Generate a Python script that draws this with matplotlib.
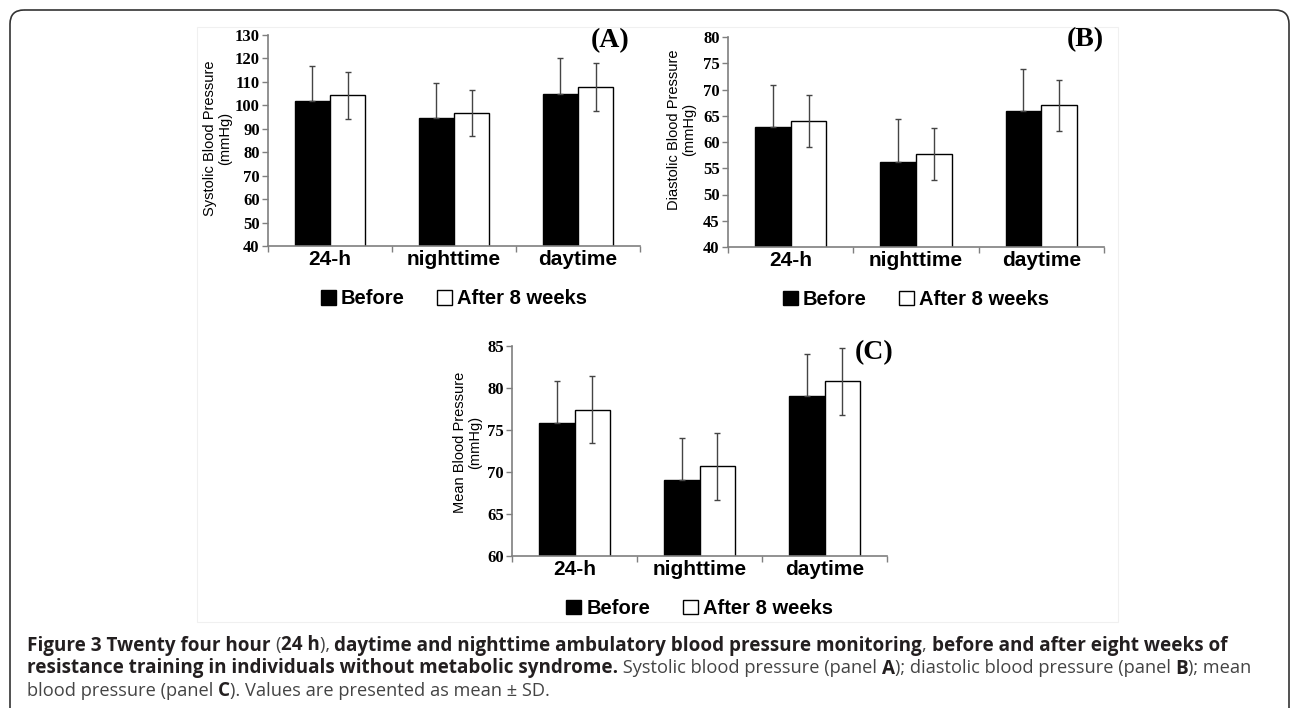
import matplotlib
matplotlib.use('Agg')
import matplotlib.pyplot as plt
import numpy as np
from matplotlib.patches import Patch, FancyBboxPatch, Rectangle

# data (mean and SD, mmHg)
categories = ['24-h', 'nighttime', 'daytime']

sys_before = [101.7, 94.5, 104.9]
sys_before_sd = [15.0, 15.1, 15.1]
sys_after = [104.2, 96.7, 107.9]
sys_after_sd = [10.2, 9.9, 10.2]

dia_before = [62.9, 56.2, 66.0]
dia_before_sd = [8.0, 8.1, 8.0]
dia_after = [64.0, 57.7, 67.0]
dia_after_sd = [4.9, 5.0, 4.9]

mean_before = [75.8, 69.0, 79.1]
mean_before_sd = [5.0, 5.0, 5.0]
mean_after = [77.4, 70.7, 80.8]
mean_after_sd = [4.0, 4.0, 4.0]

legend_labels = ['Before', 'After 8 weeks']

W, H = 1292, 708
fig = plt.figure(figsize=(W / 100, H / 100), dpi=100)

# overlay axes in pixel units for the frame, panel tags and caption
bg = fig.add_axes([0, 0, 1, 1], zorder=0)
bg.set_xlim(0, W)
bg.set_ylim(H, 0)
bg.axis('off')

# rounded outer frame (bottom runs off the page)
bg.add_patch(FancyBboxPatch((10, 10), 1279, 760, boxstyle='round,pad=0,rounding_size=14',
                            fill=False, ec='#333333', lw=1.2, clip_on=False))
# faint border of the embedded figure image
bg.add_patch(Rectangle((197, 27), 921, 595, fill=False, ec='#f0f0f0', lw=0.8))


def px_axes(left, top, right, bottom):
    ax = fig.add_axes([left / W, 1 - bottom / H, (right - left) / W, (bottom - top) / H], zorder=2)
    ax.patch.set_visible(False)
    return ax


def panel(ax, before, before_sd, after, after_sd, ylo, yhi, ystep, ylabel, tag, tagpos, lab_x, lab_y):
    x = np.arange(len(categories))
    w = 0.285
    ax.bar(x - w / 2, before, w, color='black', edgecolor='black', lw=1.0, zorder=2)
    ax.bar(x + w / 2, after, w, color='white', edgecolor='black', lw=1.0, zorder=2)
    ax.errorbar(x - w / 2, before, yerr=[np.zeros(3), before_sd], fmt='none',
                ecolor='#444444', elinewidth=1.0, capsize=2.5, capthick=1.0, zorder=3)
    ax.errorbar(x + w / 2, after, yerr=after_sd, fmt='none',
                ecolor='#444444', elinewidth=1.0, capsize=2.5, capthick=1.0, zorder=3)
    ax.set_xlim(-0.5, 2.5)
    ax.set_ylim(ylo, yhi)
    ticks = np.arange(ylo, yhi + 0.1, ystep)
    ax.set_yticks(ticks)
    ax.set_yticklabels([str(int(v)) for v in ticks],
                       fontfamily='Liberation Serif', fontweight='bold', fontsize=12)
    ax.set_xticks(x)
    ax.set_xticklabels(categories, fontfamily='Liberation Sans', fontweight='bold', fontsize=15)
    ax.set_xticks([-0.5, 0.5, 1.5, 2.5], minor=True)
    ax.tick_params(axis='x', which='major', length=0, pad=3)
    ax.tick_params(axis='x', which='minor', length=4, color='#7f7f7f', width=1.0)
    ax.tick_params(axis='y', length=4, color='#7f7f7f', width=1.0, pad=2)
    for s in ['top', 'right']:
        ax.spines[s].set_visible(False)
    for s in ['left', 'bottom']:
        ax.spines[s].set_color('#7f7f7f')
        ax.spines[s].set_linewidth(1.2)
    ax.set_ylabel(ylabel, fontfamily='Liberation Sans', fontsize=10.5, linespacing=1.1)
    ax.yaxis.set_label_coords(lab_x, lab_y)
    handles = [Patch(facecolor='black', edgecolor='black'),
               Patch(facecolor='white', edgecolor='black')]
    ax.legend(handles, legend_labels, loc='center', bbox_to_anchor=(0.5, -0.25), ncol=2,
              frameon=False, handlelength=0.75, handleheight=0.75, handletextpad=0.25,
              columnspacing=1.6, prop={'family': 'Liberation Sans', 'weight': 'bold', 'size': 14.5})
    fig.text(tagpos[0] / W, 1 - tagpos[1] / H, tag, fontfamily='Liberation Serif', fontweight='bold',
             fontsize=20, ha='center', va='center', zorder=5)


axA = px_axes(268, 35, 640, 246)
panel(axA, sys_before, sys_before_sd, sys_after, sys_after_sd, 40, 130, 10,
      'Systolic Blood Pressure\n(mmHg)', '(A)', (610, 41), -0.097, 0.51)

axB = px_axes(728, 37, 1104, 247)
panel(axB, dia_before, dia_before_sd, dia_after, dia_after_sd, 40, 80, 5,
      'Diastolic Blood Pressure\n(mmHg)', '(B)', (1085, 40), -0.085, 0.56)

axC = px_axes(512, 346, 887, 556)
panel(axC, mean_before, mean_before_sd, mean_after, mean_after_sd, 60, 85, 5,
      'Mean Blood Pressure\n(mmHg)', '(C)', (874, 353), -0.08, 0.54)

# caption, drawn piece by piece so bold and regular runs sit side by side
caption = [
    [('Figure 3 Twenty four hour ', 'bold'), ('(', 'normal'), ('24 h', 'bold'), ('), ', 'normal'),
     ('daytime and nighttime ambulatory blood pressure monitoring', 'bold'), (', ', 'normal'),
     ('before and after eight weeks of', 'bold')],
    [('resistance training in individuals without metabolic syndrome.', 'bold'),
     (' Systolic blood pressure (panel ', 'normal'), ('A', 'bold'),
     ('); diastolic blood pressure (panel ', 'normal'), ('B', 'bold'), ('); mean', 'normal')],
    [('blood pressure (panel ', 'normal'), ('C', 'bold'),
     ('). Values are presented as mean \u00b1 SD.', 'normal')],
]
cap_font = 'Open Sans'
cap_size = {'bold': 13.55, 'normal': 13.15}
cap_color = {'bold': '#231f20', 'normal': '#444444'}
renderer = fig.canvas.get_renderer()


def text_width(s, weight):
    t = bg.text(0, 0, s + '|', fontfamily=cap_font, fontweight=weight, fontsize=cap_size[weight])
    m = bg.text(0, 0, '|', fontfamily=cap_font, fontweight=weight, fontsize=cap_size[weight])
    wdt = t.get_window_extent(renderer).width - m.get_window_extent(renderer).width
    t.remove()
    m.remove()
    return wdt


for i, line in enumerate(caption):
    xpos = 27
    ypos = 643 + 23 * i
    for s, weight in line:
        bg.text(xpos, ypos, s, fontfamily=cap_font, fontweight=weight, fontsize=cap_size[weight],
                color=cap_color[weight], va='center_baseline', ha='left')
        xpos += text_width(s, weight)

fig.savefig('out.png', dpi=100)
